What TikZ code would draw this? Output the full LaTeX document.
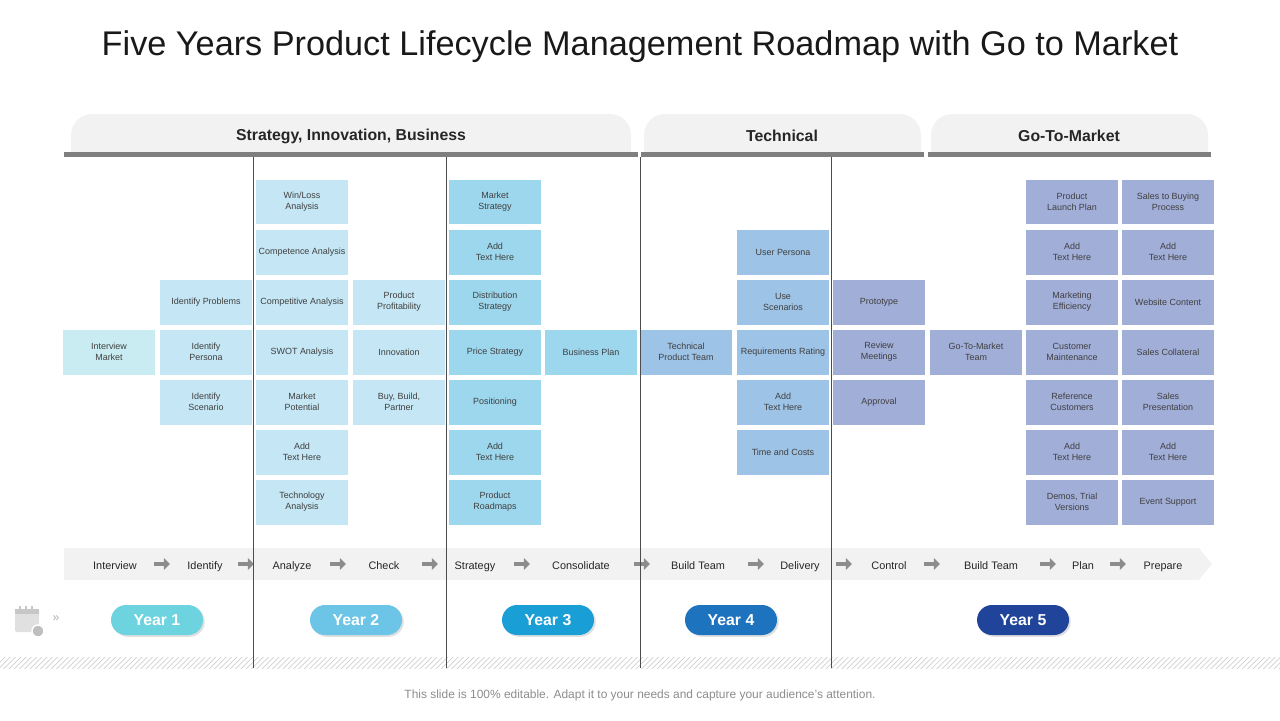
\documentclass[tikz,border=0pt]{standalone}
\usepackage{fontspec}
\setmainfont{Liberation Sans}
\usepackage{tikz}
\usetikzlibrary{arrows.meta, positioning, patterns, shadows}

\definecolor{boxA}{HTML}{C8ECF2}
\definecolor{boxB}{HTML}{C5E7F5}
\definecolor{boxC}{HTML}{9DD7EE}
\definecolor{boxD}{HTML}{9DC3E6}
\definecolor{boxE}{HTML}{A1AED8}
\definecolor{tabgray}{HTML}{F2F2F2}
\definecolor{bargray}{HTML}{7F7F7F}
\definecolor{yearA}{HTML}{6DD3DF}
\definecolor{yearB}{HTML}{6CC4E6}
\definecolor{yearC}{HTML}{1A9ED6}
\definecolor{yearD}{HTML}{1E73BE}
\definecolor{yearE}{HTML}{21449B}

\begin{document}
\begin{tikzpicture}[
        x=0.02cm, y=-0.02cm,
        % Node styles
        cell/.style={rectangle, minimum width=1.84cm, minimum height=0.9cm, inner sep=1pt,
                     align=center, font=\fontsize{5.1}{6.1}\selectfont, text=black!75},
        tab/.style={font=\bfseries\fontsize{9}{11}\selectfont, text=black!85},
        steplabel/.style={font=\fontsize{6.2}{7}\selectfont, text=black!85,
                          text height=1.6ex, text depth=0.4ex},
        yearpill/.style={rectangle, rounded corners=0.3cm, minimum width=1.84cm, minimum height=0.6cm,
                         text=white, font=\bfseries\fontsize{9}{11}\selectfont,
                         drop shadow={opacity=0.25, shadow xshift=1pt, shadow yshift=-1pt}},
        bandarrow/.style={line width=2.2pt, black!45, -{Triangle[length=3.5pt, width=6.5pt]}}
    ]
        \useasboundingbox (0,0) rectangle (1280,720);

        % Title
        \node[font=\fontsize{19.5}{23}\selectfont, text=black!90] (title) at (640,47)
            {Five Years Product Lifecycle Management Roadmap with Go to Market};

        % Header tabs
        \fill[tabgray, rounded corners=12] (71,153) -- (71,114) -- (631,114) -- (631,153);
        \fill[tabgray, rounded corners=12] (644,153) -- (644,114) -- (921,114) -- (921,153);
        \fill[tabgray, rounded corners=12] (931,153) -- (931,114) -- (1208,114) -- (1208,153);
        \fill[bargray] (64,152) rectangle (638,157);
        \fill[bargray] (641,152) rectangle (924,157);
        \fill[bargray] (928,152) rectangle (1211,157);
        \node[tab] (strategy) at (351,136) {Strategy, Innovation, Business};
        \node[tab] (technical) at (782,136) {Technical};
        \node[tab] (gotomarket) at (1069,136) {Go-To-Market};

        % Hatched strip
        \fill[pattern=north east lines, pattern color=black!18] (0,657) rectangle (1280,668);

        % Cells, column by column
        \node[cell, fill=boxA] (c1r4) at (109,352) {Interview\\Market};
        \foreach \r/\t in {3/Identify Problems, 4/Identify\\Persona, 5/Identify\\Scenario}
            \node[cell, fill=boxB] (c2r\r) at (206,152+50*\r) {\t};
        \foreach \r/\t in {1/{Win/Loss\\Analysis}, 2/Competence Analysis, 3/Competitive Analysis,
                           4/SWOT Analysis, 5/Market\\Potential, 6/Add\\Text Here, 7/Technology\\Analysis}
            \node[cell, fill=boxB] (c3r\r) at (302,152+50*\r) {\t};
        \foreach \r/\t in {3/Product\\Profitability, 4/Innovation, 5/{Buy, Build,\\Partner}}
            \node[cell, fill=boxB] (c4r\r) at (399,152+50*\r) {\t};
        \foreach \r/\t in {1/Market\\Strategy, 2/Add\\Text Here, 3/Distribution\\Strategy,
                           4/Price Strategy, 5/Positioning, 6/Add\\Text Here, 7/Product\\Roadmaps}
            \node[cell, fill=boxC] (c5r\r) at (495,152+50*\r) {\t};
        \node[cell, fill=boxC] (c6r4) at (591,352) {Business Plan};
        \node[cell, fill=boxD] (c7r4) at (686,352) {Technical\\Product Team};
        \foreach \r/\t in {2/User Persona, 3/Use\\Scenarios, 4/Requirements Rating,
                           5/Add\\Text Here, 6/Time and Costs}
            \node[cell, fill=boxD] (c8r\r) at (783,152+50*\r) {\t};
        \foreach \r/\t in {3/Prototype, 4/Review\\Meetings, 5/Approval}
            \node[cell, fill=boxE] (c9r\r) at (879,152+50*\r) {\t};
        \node[cell, fill=boxE] (c10r4) at (976,352) {Go-To-Market\\Team};
        \foreach \r/\t in {1/Product\\Launch Plan, 2/Add\\Text Here, 3/Marketing\\Efficiency,
                           4/Customer\\Maintenance, 5/Reference\\Customers, 6/Add\\Text Here,
                           7/{Demos, Trial\\Versions}}
            \node[cell, fill=boxE] (c11r\r) at (1072,152+50*\r) {\t};
        \foreach \r/\t in {1/Sales to Buying\\Process, 2/Add\\Text Here, 3/Website Content,
                           4/Sales Collateral, 5/Sales\\Presentation, 6/Add\\Text Here, 7/Event Support}
            \node[cell, fill=boxE] (c12r\r) at (1168,152+50*\r) {\t};

        % Step band
        \fill[tabgray] (64,548) -- (1199,548) -- (1212,564) -- (1199,580) -- (64,580) -- cycle;
        \foreach \x/\t [count=\i] in {115/Interview, 205/Identify, 292/Analyze, 384/Check,
                                      475/Strategy, 581/Consolidate, 698/Build Team, 800/Delivery,
                                      889/Control, 991/Build Team, 1083/Plan, 1163/Prepare}
            \node[steplabel] (s\i) at (\x,564) {\t};
        \foreach \x in {162, 246, 338, 430, 522, 642, 756, 844, 932, 1048, 1118}
            \draw[bandarrow] (\x-8,564) -- (\x+8,564);

        % Separators
        \foreach \x in {253, 446, 640, 831}
            \draw[black!70, line width=0.5pt] (\x,157) -- (\x,668);

        % Year pills
        \node[yearpill, fill=yearA] (year1) at (157,620) {Year 1};
        \node[yearpill, fill=yearB] (year2) at (356,620) {Year 2};
        \node[yearpill, fill=yearC] (year3) at (548,620) {Year 3};
        \node[yearpill, fill=yearD] (year4) at (731,620) {Year 4};
        \node[yearpill, fill=yearE] (year5) at (1023,620) {Year 5};

        % Calendar icon
        \fill[black!12, rounded corners=1] (15,609) rectangle (39,632);
        \fill[black!22] (15,609) rectangle (39,614);
        \foreach \x in {19, 25, 31} \fill[black!22] (\x,606) rectangle (\x+2,611);
        \fill[black!25, draw=white, line width=0.8pt] (38,631) circle (6);
        \node[text=black!30, font=\fontsize{7}{8}\selectfont] (more) at (56,619) {»};

        % Footer
        \node[text=black!45, font=\fontsize{6.8}{8}\selectfont] (footer) at (640,695)
            {This slide is 100\% editable. Adapt it to your needs and capture your audience’s attention.};
    \end{tikzpicture}
\end{document}
